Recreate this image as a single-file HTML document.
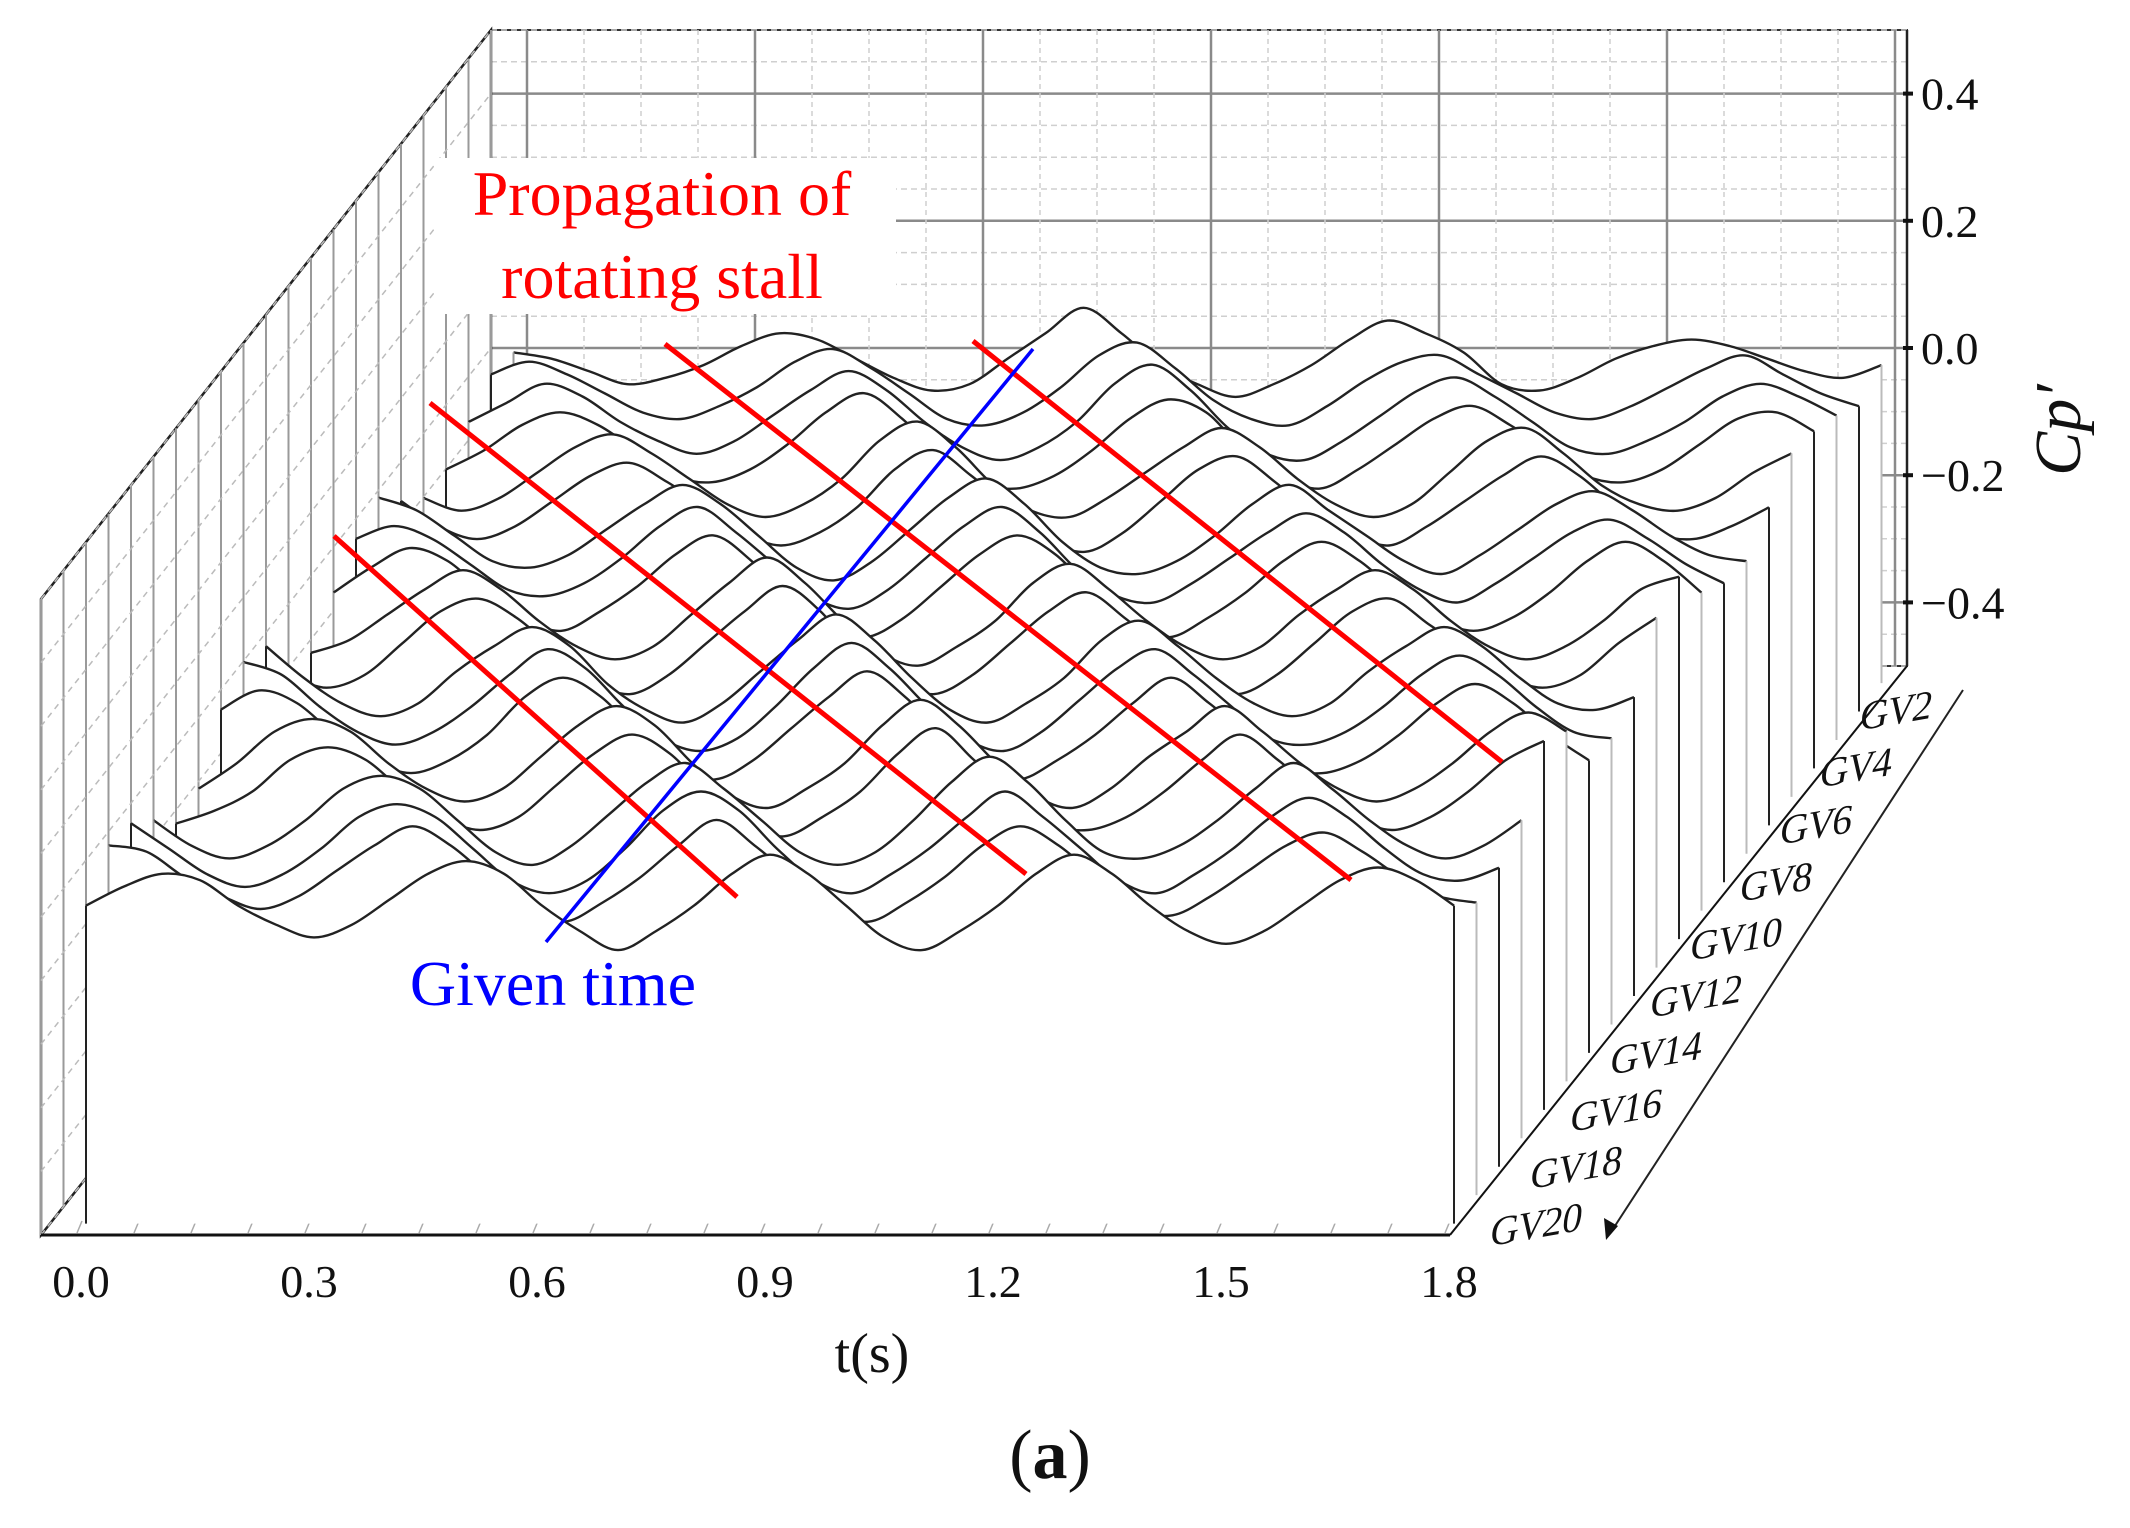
<!DOCTYPE html>
<html><head><meta charset="utf-8"><style>
html,body{margin:0;padding:0;background:#fff;}
svg{display:block;}
text{font-family:"Liberation Serif",serif;}
</style></head><body>
<svg id="chart" width="2130" height="1528" viewBox="0 0 2130 1528" xmlns="http://www.w3.org/2000/svg">
<g id="walls"></g>
<g id="traces"></g>
<g id="annot"></g>
<g id="labels"></g>
</svg>
<script>
const xTickLabels = ["0.0","0.3","0.6","0.9","1.2","1.5","1.8"];
const xTickValues = [0,0.3,0.6,0.9,1.2,1.5,1.8];
const zTickLabels = ["0.4","0.2","0.0","\u22120.2","\u22120.4"];
const zTickValues = [0.4,0.2,0.0,-0.2,-0.4];
const gvLabels = ["GV2","GV4","GV6","GV8","GV10","GV12","GV14","GV16","GV18","GV20"];
const seriesNames = ["GV1","GV2","GV3","GV4","GV5","GV6","GV7","GV8","GV9","GV10","GV11","GV12","GV13","GV14","GV15","GV16","GV17","GV18","GV19","GV20"];
const cpGV1 = [.02,.01,-.01,-.03,-.02,.0,.03,.05,.04,.01,-.02,-.04,-.03,.01,.05,.09,.05,.0,-.03,-.05,-.03,.0,.04,.07,.05,.02,-.03,-.04,-.02,.01,.03,.04,.03,.01,-.01,-.02,.0];
const cpGV2 = [.03,.05,.03,.0,-.03,-.04,-.02,.01,.05,.07,.04,.0,-.04,-.05,-.03,.01,.06,.08,.04,-.01,-.04,-.05,-.02,.02,.05,.06,.03,.0,-.03,-.04,-.02,.01,.04,.06,.03,.0,-.02];
const cpGV3 = [.0,.03,.06,.04,.0,-.03,-.05,-.03,.01,.05,.08,.05,.0,-.04,-.06,-.04,.0,.06,.09,.05,-.01,-.05,-.06,-.03,.01,.05,.07,.04,.0,-.04,-.05,-.03,.0,.04,.06,.04,.01];
const cpGV4 = [-.03,.0,.04,.06,.04,.0,-.04,-.05,-.03,.01,.06,.09,.05,-.01,-.05,-.06,-.04,.0,.05,.08,.06,.0,-.04,-.06,-.03,.01,.05,.07,.04,.0,-.04,-.05,-.03,.01,.05,.06,.03];
const cpGV5 = [-.03,-.05,-.03,.01,.05,.07,.04,.0,-.04,-.06,-.04,.0,.06,.09,.05,-.01,-.05,-.06,-.03,.01,.05,.08,.05,.0,-.04,-.06,-.04,.01,.06,.08,.04,-.01,-.04,-.05,-.03,.01,.04];
const cpGV6 = [.01,-.03,-.05,-.03,.01,.05,.07,.04,.0,-.04,-.06,-.04,.0,.06,.09,.05,.0,-.05,-.07,-.04,.01,.06,.08,.04,-.01,-.04,-.06,-.03,.01,.05,.08,.05,.0,-.04,-.05,-.03,.0];
const cpGV7 = [.06,.04,.0,-.04,-.05,-.03,.01,.05,.08,.05,.0,-.05,-.07,-.04,.01,.06,.09,.05,-.01,-.05,-.06,-.04,.0,.05,.08,.04,.0,-.04,-.06,-.03,.01,.05,.07,.04,.0,-.03,-.04];
const cpGV8 = [.04,.06,.04,.0,-.04,-.05,-.03,.01,.06,.09,.05,.0,-.05,-.07,-.04,.01,.06,.09,.05,-.01,-.05,-.06,-.03,.01,.05,.08,.05,.0,-.04,-.06,-.03,.01,.05,.07,.04,.0,-.03];
const cpGV9 = [.0,.04,.07,.05,.0,-.04,-.06,-.03,.01,.06,.09,.05,-.01,-.05,-.07,-.04,.01,.06,.09,.06,.0,-.05,-.07,-.04,.0,.05,.08,.05,.0,-.04,-.06,-.04,.0,.05,.08,.05,.0];
const cpGV10 = [-.05,-.03,.01,.05,.08,.05,.0,-.04,-.06,-.04,.01,.06,.10,.06,.0,-.05,-.07,-.04,.0,.06,.09,.05,.0,-.04,-.06,-.04,.01,.05,.08,.05,.0,-.04,-.06,-.04,.0,.05,.07];
const cpGV11 = [-.04,-.06,-.04,.01,.06,.08,.05,.0,-.05,-.07,-.04,.01,.06,.10,.06,-.01,-.05,-.07,-.04,.01,.06,.09,.05,.0,-.05,-.07,-.04,.01,.06,.08,.04,.0,-.04,-.06,-.04,.01,.05];
const cpGV12 = [.05,.0,-.04,-.06,-.04,.01,.05,.08,.05,-.01,-.05,-.07,-.04,.01,.06,.10,.06,.0,-.05,-.07,-.04,.0,.06,.09,.05,.0,-.04,-.06,-.04,.01,.05,.08,.05,.0,-.04,-.05,-.03];
const cpGV13 = [.07,.05,.0,-.04,-.06,-.04,.0,.05,.09,.06,.0,-.05,-.07,-.05,.0,.06,.10,.06,.0,-.05,-.07,-.04,.01,.06,.09,.05,.0,-.05,-.06,-.04,.0,.05,.08,.05,.0,-.04,-.05];
const cpGV14 = [.04,.07,.05,.0,-.04,-.06,-.04,.0,.06,.09,.06,.0,-.05,-.07,-.04,.01,.06,.10,.06,.0,-.05,-.07,-.04,.0,.05,.09,.05,.0,-.05,-.06,-.04,.0,.05,.08,.05,.0,-.04];
const cpGV15 = [-.04,.0,.05,.07,.05,.0,-.04,-.06,-.04,.01,.06,.09,.06,.0,-.05,-.07,-.04,.0,.06,.10,.06,.0,-.05,-.07,-.04,.01,.05,.09,.05,.0,-.04,-.06,-.04,.0,.05,.08,.05];
const cpGV16 = [-.05,-.03,.0,.05,.07,.05,.0,-.04,-.06,-.04,.01,.06,.09,.06,.0,-.05,-.07,-.04,.0,.06,.10,.05,.0,-.05,-.06,-.04,.0,.05,.09,.05,.0,-.04,-.06,-.04,.0,.05,.08];
const cpGV17 = [.0,-.04,-.06,-.04,.0,.05,.07,.05,.0,-.05,-.07,-.04,.01,.06,.09,.05,.0,-.05,-.07,-.05,.0,.06,.10,.06,.0,-.05,-.06,-.04,.0,.05,.09,.05,.0,-.04,-.06,-.04,.0];
const cpGV18 = [.04,.0,-.04,-.06,-.04,.0,.05,.07,.05,.0,-.05,-.07,-.05,.0,.06,.09,.06,.0,-.05,-.07,-.04,.0,.05,.09,.05,.0,-.05,-.07,-.04,.0,.05,.08,.05,.0,-.04,-.05,-.03];
const cpGV19 = [.05,.04,.0,-.03,-.05,-.03,.01,.05,.08,.05,.0,-.05,-.07,-.04,.0,.05,.09,.05,.0,-.05,-.07,-.04,.0,.05,.08,.05,.0,-.05,-.06,-.03,.01,.05,.07,.04,.0,-.03,-.04];
const cpGV20 = [.0,.03,.05,.04,.0,-.03,-.05,-.03,.01,.05,.07,.05,.0,-.04,-.07,-.04,.0,.05,.08,.05,.0,-.05,-.07,-.04,.0,.05,.08,.05,.0,-.04,-.06,-.04,.0,.04,.06,.04,.0];
const cpData = [cpGV1,cpGV2,cpGV3,cpGV4,cpGV5,cpGV6,cpGV7,cpGV8,cpGV9,cpGV10,cpGV11,cpGV12,cpGV13,cpGV14,cpGV15,cpGV16,cpGV17,cpGV18,cpGV19,cpGV20];
const tMax = 1.8;

const NS = "http://www.w3.org/2000/svg";
const X0 = 77, XW = 1368, FLOOR = 1235, ZS = 636, DX = 450, DY = -569;
function px(t, d){ return X0 + t/tMax*XW + d*DX; }
function py(z, d){ return FLOOR - (z+0.5)*ZS + d*DY; }
function mk(tag, attrs, parent){ const e=document.createElementNS(NS,tag); for(const k in attrs) e.setAttribute(k,attrs[k]); parent.appendChild(e); return e; }

const walls=document.getElementById('walls');
const bx0 = px(0,1)-36, bx1 = px(tMax,1)+12;
const bw = mk('rect',{x:bx0,y:py(0.5,1),width:bx1-bx0,height:py(-0.5,1)-py(0.5,1),fill:'#fff',stroke:'#333','stroke-width':2},walls);


for(let z=-0.5; z<=0.5001; z+=0.05){
  const major = Math.abs(Math.round(z*20))%4===0 && Math.abs(z*20-Math.round(z*20))<1e-6;
  const l=mk('line',{x1:bx0,x2:bx1,y1:py(z,1),y2:py(z,1),stroke:major?'#8a8a8a':'#cfcfcf','stroke-width':major?2.5:1.5,'stroke-dasharray':major?'':'6 4'},walls);
  
  
}
for(let t=0; t<=tMax+1e-6; t+=0.075){
  const major = Math.abs(t/0.3-Math.round(t/0.3))<1e-6;
  const l=mk('line',{x1:px(t,1),x2:px(t,1),y1:py(0.5,1),y2:py(-0.5,1),stroke:major?'#8a8a8a':'#cfcfcf','stroke-width':major?2.5:1.5,'stroke-dasharray':major?'':'5 4'},walls);
  
  
}
const lx0 = X0-36;
const lw = mk('polygon',{points:`${lx0},${FLOOR} ${lx0},${py(0.5,0)} ${lx0+DX},${py(0.5,1)} ${lx0+DX},${py(-0.5,1)}`,fill:'#fff',stroke:'#222','stroke-width':2.5},walls);


for(let i=0;i<=20;i++){
  const d=i/20;
  const l=mk('line',{x1:lx0+d*DX,x2:lx0+d*DX,y1:py(0.5,0)+d*DY,y2:FLOOR+d*DY,stroke:'#9a9a9a','stroke-width':2},walls);
  
  
}
for(let z=-0.5; z<=0.5001; z+=0.1){
  const l=mk('line',{x1:lx0,x2:lx0+DX,y1:py(z,0),y2:py(z,1),stroke:'#bbb','stroke-width':1.5,'stroke-dasharray':'6 5'},walls);
  
  
}
const fe=mk('line',{x1:lx0,x2:px(tMax,0)+5,y1:FLOOR,y2:FLOOR,stroke:'#111','stroke-width':3},walls);


const re=mk('line',{x1:px(tMax,0)+5,y1:FLOOR,x2:px(tMax,1)+12,y2:py(-0.5,1),stroke:'#111','stroke-width':2},walls);


for(let t=0;t<=tMax+1e-6;t+=0.075){
  const l=mk('line',{x1:px(t,0),y1:FLOOR-2,x2:px(t,0)+5,y2:FLOOR-14,stroke:'#aaa','stroke-width':1.5},walls);
  
  
}

function catmull(pts){
  let s=`M${pts[0][0].toFixed(1)},${pts[0][1].toFixed(1)}`;
  for(let i=0;i<pts.length-1;i++){
    const p0=pts[Math.max(i-1,0)],p1=pts[i],p2=pts[i+1],p3=pts[Math.min(i+2,pts.length-1)];
    const c1=[p1[0]+(p2[0]-p0[0])/6,p1[1]+(p2[1]-p0[1])/6];
    const c2=[p2[0]-(p3[0]-p1[0])/6,p2[1]-(p3[1]-p1[1])/6];
    s+=`C${c1[0].toFixed(1)},${c1[1].toFixed(1)} ${c2[0].toFixed(1)},${c2[1].toFixed(1)} ${p2[0].toFixed(1)},${p2[1].toFixed(1)}`;
  }
  return s;
}
const tr=document.getElementById('traces');
for(let i=0;i<cpData.length;i++){
  const vals=cpData[i];
  const d=0.97-i*(0.95/19);
  const n=vals.length;
  const pts=vals.map((v,k)=>[px(k*tMax/(n-1),d),py(v,d)]);
  const curve=catmull(pts);
  const last=pts[n-1], first=pts[0];
  const g=mk('g',{},tr);
  
  
  const fill=mk('path',{d:curve+`L${last[0]},${py(-0.5,d)}L${first[0]},${py(-0.5,d)}Z`,fill:'#fff',stroke:'none'},g);
  
  
  const ln=mk('path',{d:curve,fill:'none',stroke:'#222','stroke-width':2.4},g);
  
  
  const rv=mk('line',{x1:last[0],x2:last[0],y1:last[1],y2:py(-0.5,d),stroke:i%2?'#222':'#bbb','stroke-width':2},g);
  
  
  const lv=mk('line',{x1:first[0],x2:first[0],y1:first[1],y2:py(-0.5,d),stroke:i%2?'#222':'#999','stroke-width':2},g);
  
  
}

const an=document.getElementById('annot');
const redLines=[[334,536,737,897],[430,403,1026,874],[665,344,1351,880],[973,341,1502,762]];
redLines.forEach(r=>{
  const l=mk('line',{x1:r[0],y1:r[1],x2:r[2],y2:r[3],stroke:'#ff0000','stroke-width':5},an);
  
  
});
const bl=mk('line',{x1:546,y1:942,x2:1033,y2:349,stroke:'#0000ff','stroke-width':3.5},an);


const box=mk('rect',{x:434,y:158,width:462,height:156,fill:'#fff'},an);


const t1=mk('text',{x:662,y:215,'text-anchor':'middle','font-size':64,fill:'#ff0000'},an);
t1.textContent='Propagation of';


const t2=mk('text',{x:662,y:298,'text-anchor':'middle','font-size':64,fill:'#ff0000'},an);
t2.textContent='rotating stall';


const t3=mk('text',{x:553,y:1005,'text-anchor':'middle','font-size':64,fill:'#0000ff'},an);
t3.textContent='Given time';



const lb=document.getElementById('labels');
xTickValues.forEach((v,k)=>{
  const t=mk('text',{x:px(v,0)+4,y:1297,'text-anchor':'middle','font-size':46,fill:'#111'},lb);
  t.textContent=xTickLabels[k];
  
  
});
const zx=px(tMax,1)+12;
const zax=mk('line',{x1:zx,x2:zx,y1:py(0.5,1),y2:py(-0.5,1),stroke:'#222','stroke-width':2.5},lb);


zTickValues.forEach((v,k)=>{
  const tk=mk('line',{x1:zx-4,x2:zx+6,y1:py(v,1),y2:py(v,1),stroke:'#111','stroke-width':4},lb);
  
  
  const t=mk('text',{x:zx+14,y:py(v,1)+16,'font-size':46,fill:'#111'},lb);
  t.textContent=zTickLabels[k];
  
  
});
const cp=mk('text',{x:2080,y:430,'text-anchor':'middle','font-size':66,'font-style':'italic',fill:'#111',transform:'rotate(-90 2080 430)'},lb);
cp.textContent='Cp\u2032';


const xt=mk('text',{x:872,y:1372,'text-anchor':'middle','font-size':56,fill:'#111'},lb);
xt.textContent='t(s)';


const pa=mk('text',{x:1050,y:1478,'text-anchor':'middle','font-size':70,fill:'#111'},lb);
pa.innerHTML='(<tspan font-weight="bold">a</tspan>)';


const da=mk('line',{x1:1963,y1:690,x2:1611,y2:1232,stroke:'#222','stroke-width':2},lb);


const ar=mk('polygon',{points:'1606,1240 1604,1218 1618,1226',fill:'#111'},lb);


gvLabels.forEach((s,k)=>{
  const f=k/9;
  const x=1896+(1536-1896)*f, y=724+(1238-724)*f;
  const t=mk('text',{x:0,y:0,'text-anchor':'middle','font-size':40,'font-style':'italic',fill:'#111',transform:`translate(${x} ${y}) rotate(-10) skewX(-10)`},lb);
  t.textContent=s;
  
  
});
</script>
</body></html>
